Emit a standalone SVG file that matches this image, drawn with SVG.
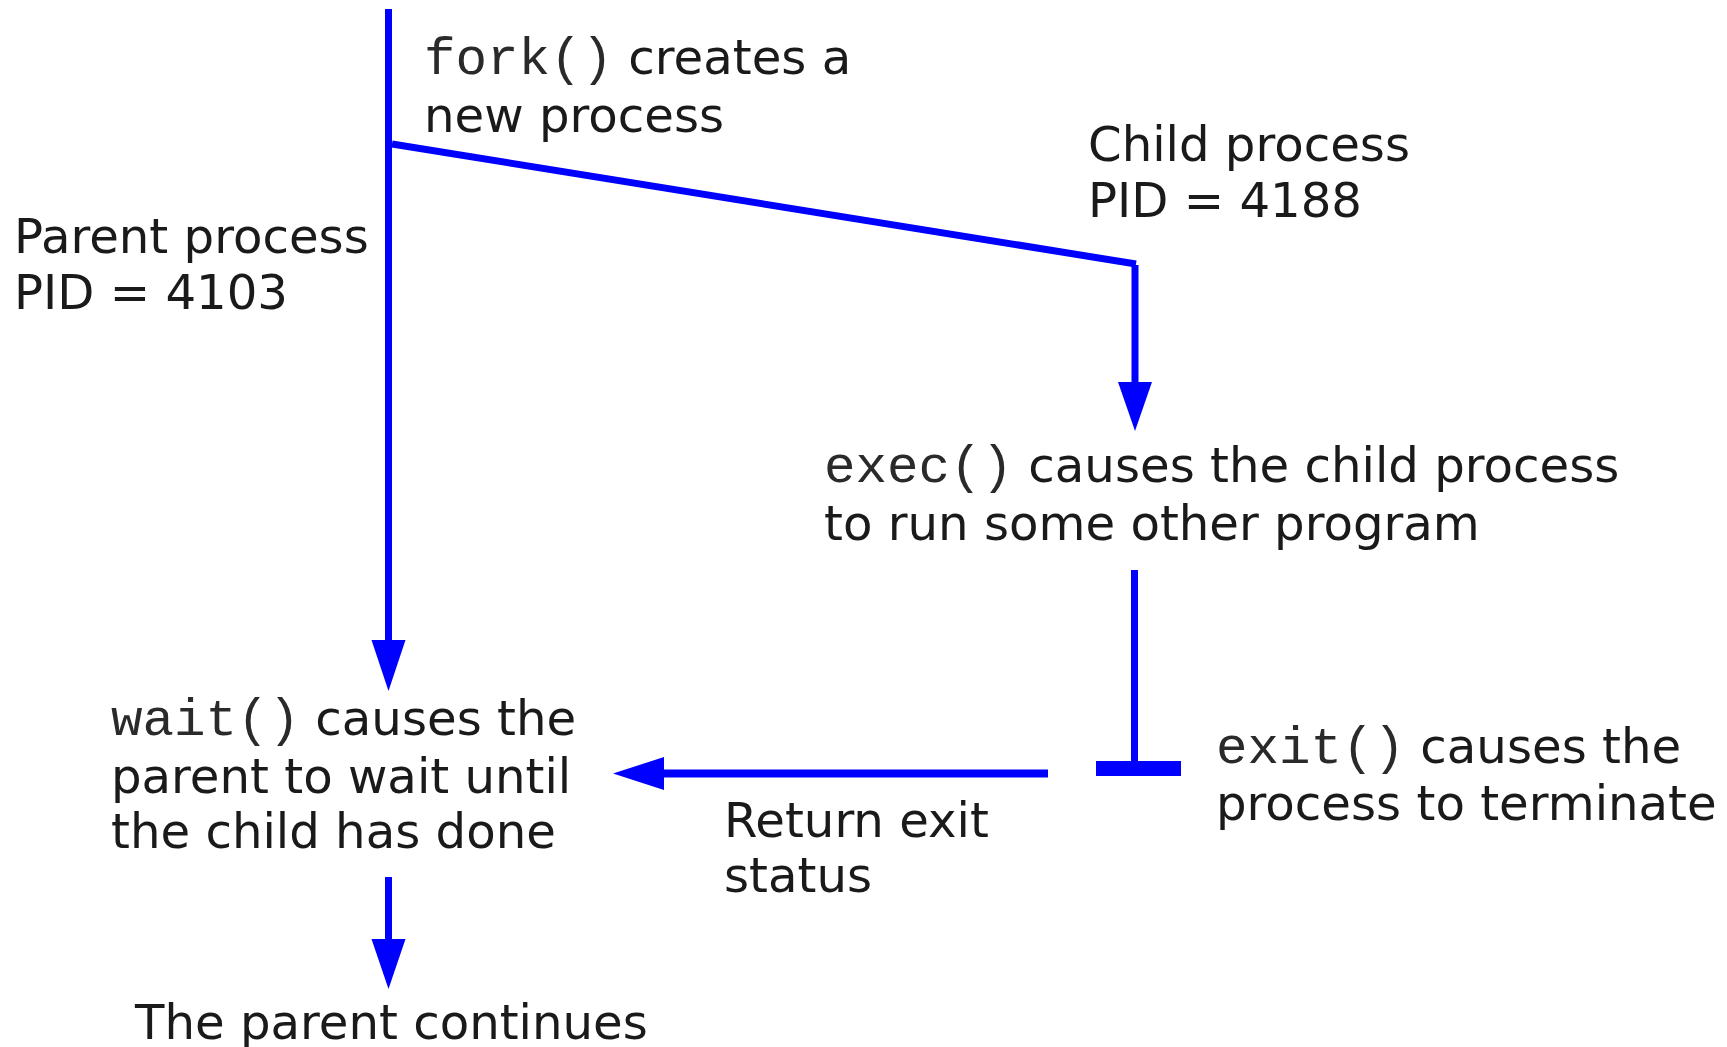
<svg xmlns="http://www.w3.org/2000/svg" width="1727" height="1047" viewBox="0 0 1727 1047">
<style>
.t{font-family:"DejaVu Sans",sans-serif;font-size:48.2px;fill:#1a1a1a}
.m{font-family:"Liberation Mono",monospace;font-size:52.5px;fill:#2a2a2a}
.ln{stroke:#0000ff;stroke-width:7;fill:none}
.ah{fill:#0000ff}
</style>
<rect width="1727" height="1047" fill="#fff"/>
<g id="connectors">
<line class="ln" x1="388.5" y1="9" x2="388.5" y2="645"/>
<polygon class="ah" points="371.5,640 405.5,640 388.5,691"/>
<line class="ln" x1="392" y1="144" x2="1136" y2="264"/>
<line class="ln" x1="1135" y1="265" x2="1135" y2="390"/>
<polygon class="ah" points="1118,382 1152,382 1135,431"/>
<line class="ln" x1="1134.5" y1="570" x2="1134.5" y2="765"/>
<rect class="ah" x="1096" y="761" width="85" height="15"/>
<line class="ln" x1="1048" y1="773.5" x2="655" y2="773.5" style="stroke-width:8"/>
<polygon class="ah" points="664,757 664,790 613,773.5"/>
<line class="ln" x1="388.5" y1="877" x2="388.5" y2="945"/>
<polygon class="ah" points="371.5,939 405.5,939 388.5,989"/>
</g>
<g id="fork"><text class="t" x="424" y="74"><tspan class="m">fork()</tspan> creates a</text><text class="t" x="424" y="132">new process</text></g>
<g id="parent"><text class="t" x="14" y="253">Parent process</text><text class="t" x="14" y="309">PID = 4103</text></g>
<g id="child"><text class="t" x="1088" y="161">Child process</text><text class="t" x="1088" y="217">PID = 4188</text></g>
<g id="exec"><text class="t" x="824" y="482"><tspan class="m">exec()</tspan> causes the child process</text><text class="t" x="824" y="540">to run some other program</text></g>
<g id="wait"><text class="t" x="111" y="735"><tspan class="m">wait()</tspan> causes the</text><text class="t" x="111" y="793">parent to wait until</text><text class="t" x="111" y="848">the child has done</text></g>
<g id="return"><text class="t" x="724" y="837">Return exit</text><text class="t" x="724" y="892">status</text></g>
<g id="exit"><text class="t" x="1216" y="763"><tspan class="m">exit()</tspan> causes the</text><text class="t" x="1216" y="820">process to terminate</text></g>
<g id="continues"><text class="t" x="135" y="1039">The parent continues</text></g>
</svg>
